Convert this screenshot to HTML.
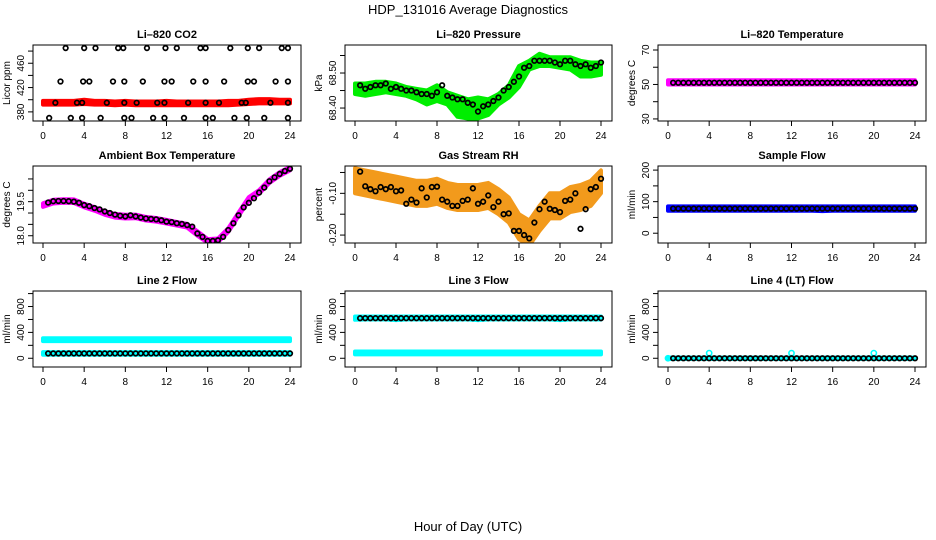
<!DOCTYPE html>
<html><head><meta charset="utf-8"><style>
body{margin:0;background:#fff}
svg{display:block;font-family:"Liberation Sans",Arial,sans-serif}
</style></head><body>
<svg id="chart" width="936" height="540" viewBox="0 0 936 540">
<rect width="936" height="540" fill="#fff"/>
<text x="468" y="14" font-size="13" text-anchor="middle">HDP_131016  Average Diagnostics</text>
<text x="468" y="531" font-size="13" text-anchor="middle">Hour of Day (UTC)</text>
</svg>
<script>
const hours48=[0.5,1,1.5,2,2.5,3,3.5,4,4.5,5,5.5,6,6.5,7,7.5,8,8.5,9,9.5,10,10.5,11,11.5,12,12.5,13,13.5,14,14.5,15,15.5,16,16.5,17,17.5,18,18.5,19,19.5,20,20.5,21,21.5,22,22.5,23,23.5,24];
const hours25=[0,1,2,3,4,5,6,7,8,9,10,11,12,13,14,15,16,17,18,19,20,21,22,23,24];
const xTicks=[0,4,8,12,16,20,24];

const co2Hours=[2.2,4,5.1,7.3,7.8,10.1,11.9,13,15.3,15.8,18.2,19.9,21,23.2,23.8,1.7,3.9,4.5,6.8,7.9,9.7,11.8,12.5,14.6,15.8,17.6,19.9,20.5,22.6,23.8,1.2,3.3,3.8,6.2,7.9,9.1,11.1,11.8,14.1,15.8,17.1,19.3,19.7,22.1,23.8,0.6,2.7,3.8,5.6,7.9,8.6,10.7,11.8,13.7,15.8,16.5,18.6,19.8,21.5,23.8];
const co2Vals=[485,485,485,485,485,485,485,485,485,485,485,485,485,485,485,430,430,430,430,430,430,430,430,430,430,430,430,430,430,430,395,395,395,395,395,395,395,395,395,395,395,395,395,395,395,370,370,370,370,370,370,370,370,370,370,370,370,370,370,370];
const co2Lo=[392,392,392,392,393,392,392,391,392,391,391,391,391,391,391,391,391,391,391,392,393,394,394,394,394];
const co2Hi=[398,398,398,398,400,398,398,397,398,397,397,397,398,397,397,397,397,397,398,398,400,401,401,400,400];

const presVals=[68.465,68.455,68.46,68.465,68.465,68.47,68.455,68.46,68.455,68.45,68.45,68.445,68.44,68.44,68.435,68.445,68.465,68.435,68.43,68.425,68.425,68.415,68.41,68.39,68.405,68.41,68.42,68.43,68.45,68.46,68.475,68.49,68.515,68.52,68.535,68.535,68.535,68.535,68.53,68.525,68.535,68.535,68.525,68.52,68.525,68.515,68.52,68.53];
const presHi=[68.47,68.47,68.475,68.475,68.47,68.46,68.455,68.45,68.465,68.445,68.435,68.425,68.43,68.425,68.44,68.465,68.52,68.535,68.555,68.545,68.545,68.545,68.535,68.53,68.53];
const presLo=[68.44,68.435,68.44,68.445,68.44,68.435,68.425,68.41,68.42,68.41,68.375,68.37,68.37,68.38,68.41,68.43,68.46,68.51,68.52,68.52,68.515,68.51,68.49,68.49,68.495];

const tempVals=[51,51,51,51,51,51,51,51,51,51,51,51,51,51,51,51,51,51,51,51,51,51,51,51,51,51,51,51,51,51,51,51,51,51,51,51,51,51,51,51,51,51,51,51,51,51,51,51];
const tempLo=[50,50,50,50,50,50,50,50,50,50,50,50,50,50,50,50,50,50,50,50,50,50,50,50,50];
const tempHi=[52.5,52.5,52.5,52.5,52.5,52.5,52.5,52.5,52.5,52.5,52.5,52.5,52.5,52.5,52.5,52.5,52.5,52.5,52.5,52.5,52.5,52.5,52.5,52.5,52.5];

const ambVals=[19.46,19.52,19.53,19.53,19.52,19.5,19.45,19.35,19.3,19.22,19.16,19.07,19.0,18.93,18.88,18.85,18.9,18.85,18.8,18.76,18.74,18.72,18.68,18.62,18.6,18.55,18.52,18.47,18.4,18.1,17.95,17.77,17.77,17.8,17.95,18.25,18.55,18.9,19.25,19.45,19.65,19.9,20.12,20.4,20.57,20.72,20.85,20.95];
const ambLo=[19.27,19.42,19.45,19.44,19.25,19.1,18.92,18.8,18.76,18.77,18.67,18.62,18.54,18.45,18.36,18.0,17.69,17.72,18.17,18.86,19.54,19.85,20.32,20.64,20.87];
const ambHi=[19.43,19.58,19.61,19.6,19.41,19.26,19.08,18.96,18.92,18.93,18.83,18.78,18.7,18.61,18.52,18.2,17.85,17.88,18.33,19.02,19.7,20.01,20.48,20.8,21.03];

const rhVals=[-0.048,-0.083,-0.09,-0.095,-0.085,-0.09,-0.085,-0.095,-0.093,-0.125,-0.115,-0.122,-0.088,-0.11,-0.085,-0.084,-0.115,-0.12,-0.13,-0.13,-0.118,-0.115,-0.088,-0.125,-0.12,-0.105,-0.133,-0.12,-0.15,-0.148,-0.19,-0.19,-0.2,-0.208,-0.17,-0.138,-0.12,-0.137,-0.14,-0.145,-0.118,-0.115,-0.1,-0.185,-0.138,-0.09,-0.085,-0.065];
const rhHi=[-0.04,-0.045,-0.05,-0.055,-0.06,-0.065,-0.07,-0.07,-0.065,-0.075,-0.08,-0.08,-0.08,-0.075,-0.09,-0.11,-0.15,-0.165,-0.13,-0.1,-0.1,-0.085,-0.08,-0.07,-0.045];
const rhLo=[-0.1,-0.105,-0.11,-0.115,-0.12,-0.125,-0.13,-0.13,-0.125,-0.135,-0.14,-0.14,-0.14,-0.135,-0.15,-0.17,-0.21,-0.225,-0.19,-0.16,-0.16,-0.145,-0.14,-0.13,-0.1];

const sfVals=[78,78,78,78,78,78,78,78,78,78,78,78,78,78,78,78,78,78,78,78,78,78,78,78,78,78,78,78,78,78,78,78,78,78,78,78,78,78,78,78,78,78,78,78,78,78,78,78];
const sfLo=[71,71,71,71,71,71,71,71,71,71,71,71,71,71,71,70,71,71,71,71,71,71,71,71,71];
const sfHi=[85,85,85,85,85,85,85,85,85,85,85,85,85,85,85,85,85,85,85,85,85,85,85,85,85];

const l2Vals=[75,75,75,75,75,75,75,75,75,75,75,75,75,75,75,75,75,75,75,75,75,75,75,75,75,75,75,75,75,75,75,75,75,75,75,75,75,75,75,75,75,75,75,75,75,75,75,75];
const l2HiLo=[265,265,265,265,265,265,265,265,265,265,265,265,265,265,265,265,265,265,265,265,265,265,265,265,265];
const l2HiHi=[310,310,310,310,310,310,310,310,310,310,310,310,310,310,310,310,310,310,310,310,310,310,310,310,310];
const l2LoLo=[55,55,55,55,55,55,55,55,55,55,55,55,55,55,55,55,55,55,55,55,55,55,55,55,55];
const l2LoHi=[95,95,95,95,95,95,95,95,95,95,95,95,95,95,95,95,95,95,95,95,95,95,95,95,95];

const l3Vals=[620,620,620,620,620,620,620,620,620,620,620,620,620,620,620,620,620,620,620,620,620,620,620,620,620,620,620,620,620,620,620,620,620,620,620,620,620,620,620,620,620,620,620,620,620,620,620,620];
const l3HiLo=[595,600,600,600,590,600,600,600,600,600,600,600,590,600,600,600,600,600,600,600,590,600,600,600,600];
const l3HiHi=[645,645,645,645,645,645,645,645,645,645,645,645,645,645,645,645,645,645,645,645,645,645,645,645,645];
const l3LoLo=[60,60,60,60,60,60,60,60,60,60,60,60,60,60,60,60,60,60,60,60,60,60,60,60,60];
const l3LoHi=[105,105,105,105,105,105,105,105,105,105,105,105,105,105,105,105,105,105,105,105,105,105,105,105,105];

const l4Vals=[0,0,0,0,0,0,0,0,0,0,0,0,0,0,0,0,0,0,0,0,0,0,0,0,0,0,0,0,0,0,0,0,0,0,0,0,0,0,0,0,0,0,0,0,0,0,0,0];
const l4Lo=[-12,-12,-12,-12,-12,-12,-12,-12,-12,-12,-12,-12,-12,-12,-12,-12,-12,-12,-12,-12,-12,-12,-12,-12,-12];
const l4Hi=[12,12,12,12,12,12,12,12,12,12,12,12,12,12,12,12,12,12,12,12,12,12,12,12,12];
const l4SpikeHours=[0,4,12,20];
const l4SpikeVals=[0,80,80,80];

const NS="http://www.w3.org/2000/svg";
const svg=document.getElementById('chart');
const colX=[[33,301],[345,612],[658,926]];
const rowY=[[45,121],[166,243],[291,367]];
function mk(tag,attrs,parent){const e=document.createElementNS(NS,tag);for(const k in attrs)e.setAttribute(k,attrs[k]);(parent||svg).appendChild(e);return e;}

const panels=[
 {key:'co2',title:'Li\u2013820 CO2',ylab:'Licor ppm',c:0,r:0,yMin:365,yMax:490,ticks:[380,400,420,440,460,480],labs:[380,420,460],
  bands:[{lo:co2Lo,hi:co2Hi,col:'#ff0000'}],ph:co2Hours,pv:co2Vals},
 {key:'pressure',title:'Li\u2013820 Pressure',ylab:'kPa',c:1,r:0,yMin:68.363,yMax:68.58,ticks:[68.40,68.45,68.50,68.55],labs:[68.40,68.50],fmt:2,
  bands:[{lo:presLo,hi:presHi,col:'#00ee00'}],ph:hours48,pv:presVals},
 {key:'temperature',title:'Li\u2013820 Temperature',ylab:'degrees C',c:2,r:0,yMin:28.8,yMax:72.9,ticks:[30,40,50,60,70],labs:[30,50,70],
  bands:[{lo:tempLo,hi:tempHi,col:'#ff00ff'}],ph:hours48,pv:tempVals},
 {key:'ambient',title:'Ambient Box Temperature',ylab:'degrees C',c:0,r:1,yMin:17.68,yMax:21.07,ticks:[18,18.5,19,19.5,20,20.5],labs:[18.0,19.5],fmt:1,
  bands:[{lo:ambLo,hi:ambHi,col:'#ff00ff'}],ph:hours48,pv:ambVals},
 {key:'rh',title:'Gas Stream RH',ylab:'percent',c:1,r:1,yMin:-0.219,yMax:-0.0345,ticks:[-0.2,-0.15,-0.1,-0.05],labs:[-0.20,-0.10],fmt:2,
  bands:[{lo:rhLo,hi:rhHi,col:'#f29a1c'}],ph:hours48,pv:rhVals},
 {key:'sample-flow',title:'Sample Flow',ylab:'ml/min',c:2,r:1,yMin:-31,yMax:213,ticks:[0,50,100,150,200],labs:[0,100,200],
  bands:[{lo:sfLo,hi:sfHi,col:'#0000ff'}],ph:hours48,pv:sfVals},
 {key:'line2',title:'Line 2 Flow',ylab:'ml/min',c:0,r:2,yMin:-135,yMax:1040,ticks:[0,200,400,600,800,1000],labs:[0,400,800],
  bands:[{lo:l2HiLo,hi:l2HiHi,col:'#00ffff'},{lo:l2LoLo,hi:l2LoHi,col:'#00ffff'}],ph:hours48,pv:l2Vals},
 {key:'line3',title:'Line 3 Flow',ylab:'ml/min',c:1,r:2,yMin:-135,yMax:1040,ticks:[0,200,400,600,800,1000],labs:[0,400,800],
  bands:[{lo:l3HiLo,hi:l3HiHi,col:'#00ffff'},{lo:l3LoLo,hi:l3LoHi,col:'#00ffff'}],ph:hours48,pv:l3Vals},
 {key:'line4',title:'Line 4 (LT) Flow',ylab:'ml/min',c:2,r:2,yMin:-135,yMax:1040,ticks:[0,200,400,600,800,1000],labs:[0,400,800],
  bands:[{lo:l4Lo,hi:l4Hi,col:'#00ffff'}],ph:hours48,pv:l4Vals,sh:l4SpikeHours,sv:l4SpikeVals}
];

panels.forEach(p=>{
 const [L,R]=colX[p.c],[T,B]=rowY[p.r];
 const x0=L+10,x1=R-11;
 const sx=h=>x0+(h/24)*(x1-x0);
 const sy=v=>B-(v-p.yMin)/(p.yMax-p.yMin)*(B-T);
 const g=mk('g',{});
 
 
 const t=mk('text',{x:(L+R)/2,y:T-7,'font-size':11,'font-weight':'bold','text-anchor':'middle'},g);
 t.textContent=p.title;
 
 
 const clip=mk('clipPath',{id:'clip-'+p.key},g);
 mk('rect',{x:L,y:T,width:R-L,height:B-T},clip);
 const plot=mk('g',{'clip-path':'url(#clip-'+p.key+')'},g);
 p.bands.forEach((b,i)=>{
  let d='';
  hours25.forEach((h,j)=>{d+=(j?'L':'M')+sx(h).toFixed(1)+','+sy(b.hi[j]).toFixed(1);});
  for(let j=hours25.length-1;j>=0;j--)d+='L'+sx(hours25[j]).toFixed(1)+','+sy(b.lo[j]).toFixed(1);
  const band=mk('path',{d:d+'Z',fill:b.col,stroke:b.col,'stroke-width':4,'stroke-linejoin':'round'},plot);
  
  
 });
 if(p.sh){p.sh.forEach((h,i)=>{
  const c=mk('circle',{cx:sx(h),cy:sy(p.sv[i]),r:2.6,fill:'none',stroke:'#00ffff','stroke-width':1.6},plot);
  
  
 });}
 p.ph.forEach((h,i)=>{
  const c=mk('circle',{cx:sx(h),cy:sy(p.pv[i]),r:2.3,fill:'none',stroke:'#000','stroke-width':1.7},plot);
  
  
 });
 const box=mk('rect',{x:L,y:T,width:R-L,height:B-T,fill:'none',stroke:'#000','stroke-width':1},g);
 
 
 xTicks.forEach(h=>{
  mk('line',{x1:sx(h),x2:sx(h),y1:B,y2:B+5,stroke:'#000'},g);
  const tl=mk('text',{x:sx(h),y:B+18,'font-size':10,'text-anchor':'middle'},g);
  tl.textContent=h;
  
  
 });
 p.ticks.forEach(v=>{mk('line',{x1:L-5,x2:L,y1:sy(v),y2:sy(v),stroke:'#000'},g);});
 p.labs.forEach(v=>{
  const yy=sy(v);
  const tl=mk('text',{x:L-9,y:yy,'font-size':10,'text-anchor':'middle',transform:'rotate(-90 '+(L-9)+' '+yy+')'},g);
  tl.textContent=p.fmt?v.toFixed(p.fmt):v;
  
  
 });
 const yl=mk('text',{x:L-23,y:(T+B)/2,'font-size':10,'text-anchor':'middle',transform:'rotate(-90 '+(L-23)+' '+((T+B)/2)+')'},g);
 yl.textContent=p.ylab;
 
 
});
</script>
</body></html>
